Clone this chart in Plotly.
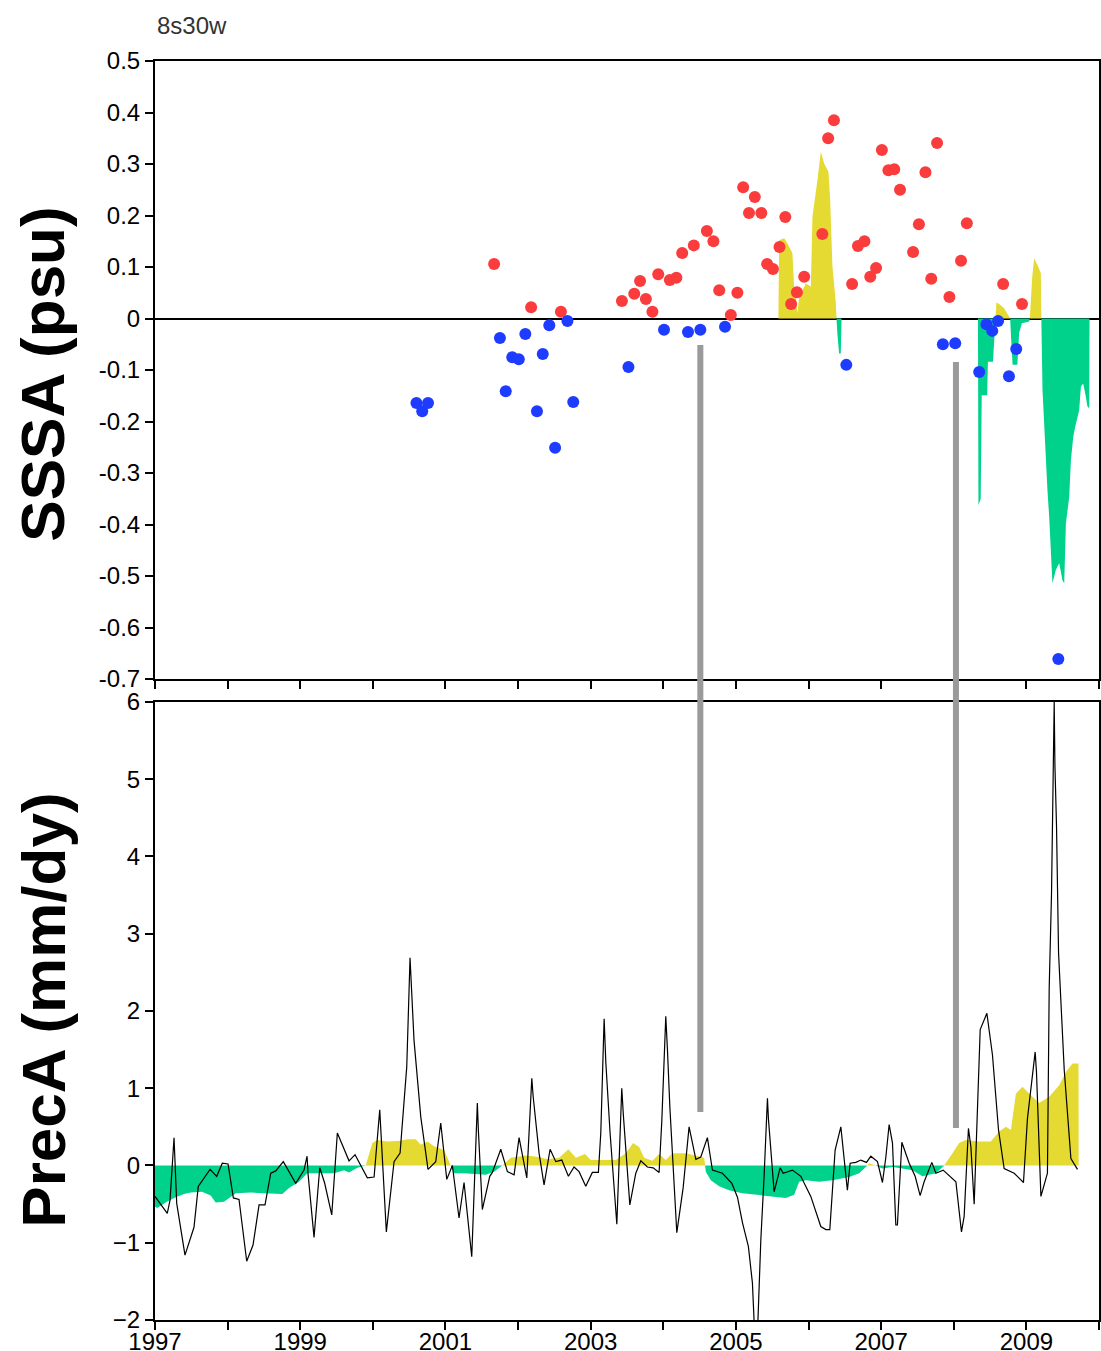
import numpy as np
import plotly.graph_objects as go

# ---------------- DATA ----------------
# Top panel: SSS anomaly scatter (decimal year, psu)
red_t = [2001.67, 2002.18, 2002.59, 2003.43, 2003.60, 2003.68, 2003.76, 2003.85, 2003.93, 2004.09,
         2004.18, 2004.26, 2004.42, 2004.60, 2004.69, 2004.77, 2004.93, 2005.02, 2005.10, 2005.18,
         2005.26, 2005.35, 2005.43, 2005.51, 2005.60, 2005.68, 2005.76, 2005.84, 2005.94, 2006.19,
         2006.27, 2006.35, 2006.60, 2006.68, 2006.77, 2006.85, 2006.93, 2007.01, 2007.10, 2007.18,
         2007.26, 2007.44, 2007.52, 2007.61, 2007.69, 2007.77, 2007.94, 2008.10, 2008.18, 2008.68,
         2008.94]
red_v = [0.106, 0.022, 0.013, 0.034, 0.048, 0.073, 0.038, 0.013, 0.086, 0.075,
         0.079, 0.127, 0.142, 0.170, 0.150, 0.055, 0.007, 0.050, 0.255, 0.205,
         0.236, 0.205, 0.106, 0.096, 0.139, 0.197, 0.028, 0.051, 0.081, 0.164,
         0.350, 0.385, 0.067, 0.141, 0.150, 0.081, 0.098, 0.327, 0.288, 0.290,
         0.250, 0.129, 0.183, 0.284, 0.077, 0.341, 0.042, 0.112, 0.185, 0.067,
         0.028]
blue_t = [2000.60, 2000.68, 2000.76, 2001.75, 2001.83, 2001.92, 2002.01, 2002.10, 2002.26, 2002.34,
          2002.43, 2002.51, 2002.68, 2002.76, 2003.52, 2004.01, 2004.34, 2004.51, 2004.85, 2006.52,
          2007.85, 2008.02, 2008.35, 2008.45, 2008.53, 2008.61, 2008.76, 2008.86, 2009.44]
blue_v = [-0.164, -0.180, -0.164, -0.038, -0.141, -0.075, -0.079, -0.030, -0.180, -0.069,
          -0.013, -0.251, -0.005, -0.162, -0.094, -0.022, -0.026, -0.022, -0.016, -0.090,
          -0.050, -0.048, -0.104, -0.011, -0.024, -0.005, -0.112, -0.059, -0.661]

# Top panel: shaded SSS anomaly series
sss_t = [2005.585, 2005.595, 2005.664, 2005.709, 2005.778, 2005.801, 2005.825, 2005.847, 2005.871, 2005.963,
         2006.032, 2006.054, 2006.123, 2006.169, 2006.215, 2006.274, 2006.298, 2006.329, 2006.376, 2006.385,
         2006.397, 2006.421, 2006.444, 2006.455, 2008.333, 2008.340, 2008.371, 2008.385, 2008.460, 2008.470,
         2008.540, 2008.560, 2008.575, 2008.587, 2008.625, 2008.694, 2008.735, 2008.777, 2008.790, 2008.810,
         2008.876, 2008.900, 2008.938, 2009.039, 2009.048, 2009.080, 2009.107, 2009.153, 2009.199, 2009.206,
         2009.222, 2009.245, 2009.268, 2009.290, 2009.314, 2009.337, 2009.359, 2009.406, 2009.452, 2009.497,
         2009.521, 2009.544, 2009.590, 2009.613, 2009.645, 2009.672, 2009.727, 2009.751, 2009.782, 2009.810,
         2009.841, 2009.865, 2009.870]
sss_v = [0.0, 0.152, 0.156, 0.146, 0.127, 0.062, 0.042, 0.010, 0.042, 0.068,
         0.062, 0.198, 0.269, 0.324, 0.301, 0.285, 0.230, 0.101, 0.030, 0.0,
         -0.029, -0.068, -0.068, 0.0, 0.0, -0.362, -0.350, -0.149, -0.149, -0.084,
         -0.084, -0.030, 0.0, 0.031, 0.028, 0.020, 0.010, 0.0, -0.040, -0.090,
         -0.090, -0.028, -0.009, -0.006, 0.0, 0.080, 0.117, 0.104, 0.088, 0.0,
         -0.139, -0.210, -0.268, -0.333, -0.385, -0.456, -0.514, -0.488, -0.475, -0.508,
         -0.514, -0.398, -0.346, -0.275, -0.230, -0.210, -0.178, -0.132, -0.126, -0.145,
         -0.171, -0.174, 0.0]

# Bottom panel: smoothed precipitation anomaly (shaded)
pfill_t = [1997.00, 1997.03, 1997.165, 1997.262, 1997.399, 1997.492, 1997.647, 1997.767, 1997.836, 1997.950,
           1998.112, 1998.318, 1998.501, 1998.663, 1998.753, 1998.846, 1998.983, 1999.098, 1999.466, 1999.603,
           1999.672, 1999.787, 1999.902, 1999.993, 2000.062, 2000.200, 2000.384, 2000.475, 2000.591, 2000.660,
           2000.751, 2000.843, 2000.981, 2001.073, 2001.118, 2001.256, 2001.555, 2001.669, 2001.784, 2001.900,
           2002.106, 2002.289, 2002.404, 2002.565, 2002.693, 2002.795, 2002.923, 2003.001, 2003.346, 2003.483,
           2003.584, 2003.667, 2003.736, 2003.850, 2003.942, 2004.034, 2004.125, 2004.310, 2004.493, 2004.562,
           2004.576, 2004.585, 2004.654, 2004.769, 2004.906, 2005.090, 2005.320, 2005.503, 2005.687, 2005.802,
           2005.871, 2005.963, 2006.146, 2006.329, 2006.559, 2006.697, 2006.789, 2006.810, 2006.835, 2006.920,
           2007.018, 2007.156, 2007.293, 2007.431, 2007.569, 2007.753, 2007.868, 2007.982, 2008.074, 2008.167,
           2008.350, 2008.511, 2008.625, 2008.718, 2008.787, 2008.855, 2008.946, 2009.062, 2009.176, 2009.314,
           2009.452, 2009.544, 2009.635, 2009.718, 2009.720]
pfill_v = [-0.53, -0.55, -0.47, -0.42, -0.37, -0.35, -0.34, -0.39, -0.48, -0.47,
           -0.36, -0.35, -0.36, -0.37, -0.37, -0.29, -0.21, -0.10, -0.10, -0.06,
           -0.09, -0.03, 0.0, 0.29, 0.33, 0.31, 0.32, 0.34, 0.34, 0.27,
           0.31, 0.25, 0.20, 0.0, -0.10, -0.10, -0.12, -0.08, 0.0, 0.10,
           0.13, 0.11, 0.08, 0.10, 0.21, 0.10, 0.15, 0.07, 0.07, 0.16,
           0.29, 0.24, 0.10, 0.06, 0.15, 0.07, 0.16, 0.16, 0.11, 0.10,
           0.0, -0.08, -0.19, -0.27, -0.32, -0.36, -0.38, -0.40, -0.42, -0.38,
           -0.21, -0.19, -0.21, -0.19, -0.15, -0.10, -0.02, 0.0, 0.03, 0.0,
           -0.04, -0.02, -0.04, -0.06, -0.14, -0.10, 0.0, 0.16, 0.29, 0.33,
           0.31, 0.31, 0.44, 0.50, 0.46, 0.93, 1.02, 0.91, 0.81, 0.89,
           1.04, 1.21, 1.32, 1.32, 0.0]

# Bottom panel: precipitation anomaly line (mm/dy)
prec_t = [1997.00, 1997.169, 1997.207, 1997.238, 1997.262, 1997.299, 1997.413, 1997.537, 1997.596, 1997.758,
          1997.850, 1997.927, 1998.006, 1998.079, 1998.157, 1998.263, 1998.350, 1998.433, 1998.515, 1998.594,
          1998.663, 1998.767, 1998.938, 1999.052, 1999.094, 1999.107, 1999.190, 1999.269, 1999.337, 1999.434,
          1999.511, 1999.672, 1999.755, 1999.924, 2000.017, 2000.095, 2000.186, 2000.292, 2000.375, 2000.467,
          2000.512, 2000.567, 2000.660, 2000.760, 2000.866, 2000.935, 2001.018, 2001.095, 2001.187, 2001.256,
          2001.362, 2001.439, 2001.453, 2001.508, 2001.610, 2001.646, 2001.762, 2001.853, 2001.945, 2002.014,
          2002.120, 2002.189, 2002.207, 2002.289, 2002.358, 2002.441, 2002.519, 2002.602, 2002.693, 2002.771,
          2002.840, 2002.932, 2003.023, 2003.106, 2003.139, 2003.185, 2003.208, 2003.267, 2003.360, 2003.428,
          2003.450, 2003.539, 2003.621, 2003.690, 2003.781, 2003.860, 2003.942, 2003.979, 2004.034, 2004.056,
          2004.090, 2004.186, 2004.273, 2004.355, 2004.387, 2004.448, 2004.516, 2004.607, 2004.676, 2004.814,
          2004.944, 2005.021, 2005.090, 2005.172, 2005.227, 2005.264, 2005.292, 2005.343, 2005.388, 2005.434,
          2005.448, 2005.526, 2005.609, 2005.650, 2005.778, 2005.894, 2006.031, 2006.169, 2006.238, 2006.293,
          2006.366, 2006.445, 2006.535, 2006.573, 2006.651, 2006.720, 2006.798, 2006.858, 2006.949, 2007.018,
          2007.065, 2007.110, 2007.156, 2007.202, 2007.224, 2007.285, 2007.386, 2007.468, 2007.537, 2007.592,
          2007.698, 2007.753, 2007.854, 2007.950, 2008.029, 2008.106, 2008.143, 2008.202, 2008.236, 2008.281,
          2008.313, 2008.364, 2008.456, 2008.533, 2008.616, 2008.694, 2008.832, 2008.960, 2009.015, 2009.121,
          2009.139, 2009.200, 2009.290, 2009.314, 2009.346, 2009.369, 2009.383, 2009.393, 2009.415, 2009.443,
          2009.489, 2009.521, 2009.613, 2009.704]
prec_v = [-0.40, -0.62, -0.45, 0.07, 0.36, -0.49, -1.16, -0.80, -0.27, -0.05,
          -0.14, 0.03, 0.02, -0.42, -0.44, -1.24, -1.03, -0.51, -0.51, -0.10,
          -0.07, 0.05, -0.23, -0.06, 0.12, -0.10, -0.93, -0.03, -0.23, -0.64,
          0.42, 0.06, 0.14, -0.16, -0.15, 0.72, -0.86, 0.05, 0.16, 1.28,
          2.69, 1.62, 0.63, -0.05, 0.05, 0.55, -0.18, 0.00, -0.68, -0.22,
          -1.18, 0.81, 0.46, -0.57, -0.14, -0.09, 0.21, -0.08, -0.12, 0.36,
          -0.16, 1.13, 0.90, 0.16, -0.25, 0.21, 0.05, 0.07, -0.14, -0.02,
          -0.08, -0.27, -0.09, -0.09, 0.42, 1.90, 1.34, 0.42, -0.76, 1.00,
          0.65, -0.51, -0.10, 0.06, -0.02, -0.03, -0.09, 0.57, 1.93, 1.52,
          0.76, -0.87, -0.29, 0.50, 0.34, 0.08, 0.11, 0.36, -0.06, -0.10,
          -0.23, -0.41, -0.74, -1.05, -1.52, -2.30, -2.30, -0.96, -0.14, 0.87,
          0.60, -0.34, -0.03, -0.10, -0.06, -0.14, -0.40, -0.79, -0.83, -0.83,
          0.20, 0.50, -0.32, 0.03, 0.04, 0.07, 0.04, 0.12, 0.05, -0.22,
          0.11, 0.53, 0.29, -0.77, -0.77, 0.30, 0.03, -0.14, -0.39, -0.21,
          0.04, -0.10, -0.06, -0.14, -0.21, -0.86, -0.66, 0.48, 0.24, -0.50,
          0.33, 1.76, 1.97, 1.43, 0.46, -0.04, -0.10, -0.22, 0.61, 1.47,
          1.21, -0.40, -0.10, 2.29, 3.52, 4.77, 6.00, 5.18, 4.39, 2.75,
          1.78, 1.24, 0.09, -0.05]

# Vertical marker lines (decimal year)
marker_years = [2004.51, 2008.03]

year_ticks = list(range(1997, 2011))
year_labels = [str(y) if (y - 1997) % 2 == 0 and y < 2010 else "" for y in year_ticks]
sss_ticks = [0.5, 0.4, 0.3, 0.2, 0.1, 0.0, -0.1, -0.2, -0.3, -0.4, -0.5, -0.6, -0.7]
sss_labels = ["0.5", "0.4", "0.3", "0.2", "0.1", "0", "-0.1", "-0.2", "-0.3", "-0.4", "-0.5", "-0.6", "-0.7"]
prec_ticks = [6, 5, 4, 3, 2, 1, 0, -1, -2]
prec_labels = ["6", "5", "4", "3", "2", "1", "0", "\u22121", "\u22122"]

# ---------------- STYLE ----------------
YELLOW = "#e5da32"
GREEN = "#00d18b"
RED = "#fb3c3c"
BLUE = "#1e3cff"
TICKFONT = dict(family="Liberation Sans, Arial", size=24, color="black")

fig = go.Figure()

sv = np.array(sss_v)
fig.add_trace(go.Scatter(x=sss_t, y=np.maximum(sv, 0), mode="lines", line=dict(width=0),
                         fill="tozeroy", fillcolor=YELLOW, xaxis="x", yaxis="y", hoverinfo="skip"))
fig.add_trace(go.Scatter(x=sss_t, y=np.minimum(sv, 0), mode="lines", line=dict(width=0),
                         fill="tozeroy", fillcolor=GREEN, xaxis="x", yaxis="y", hoverinfo="skip"))
fig.add_trace(go.Scatter(x=red_t, y=red_v, mode="markers",
                         marker=dict(color=RED, size=12, line=dict(width=0)), xaxis="x", yaxis="y"))
fig.add_trace(go.Scatter(x=blue_t, y=blue_v, mode="markers",
                         marker=dict(color=BLUE, size=12, line=dict(width=0)), xaxis="x", yaxis="y"))

pv = np.array(pfill_v)
fig.add_trace(go.Scatter(x=pfill_t, y=np.maximum(pv, 0), mode="lines", line=dict(width=0),
                         fill="tozeroy", fillcolor=YELLOW, xaxis="x2", yaxis="y2", hoverinfo="skip"))
fig.add_trace(go.Scatter(x=pfill_t, y=np.minimum(pv, 0), mode="lines", line=dict(width=0),
                         fill="tozeroy", fillcolor=GREEN, xaxis="x2", yaxis="y2", hoverinfo="skip"))
fig.add_trace(go.Scatter(x=prec_t, y=prec_v, mode="lines", line=dict(color="black", width=1.2),
                         xaxis="x2", yaxis="y2"))

axis_common = dict(showline=True, linecolor="black", linewidth=2, mirror=True, showgrid=False,
                   ticks="outside", tickcolor="black", tickwidth=2, ticklen=8, tickfont=TICKFONT)

for mx in marker_years:
    fig.add_shape(type="line", xref="x", yref="paper", x0=mx, x1=mx,
                  y0=0.7744 if mx < 2006 else 0.7609, y1=0.1652 if mx < 2006 else 0.1525,
                  line=dict(color="#9a9a9a", width=6), layer="above")

fig.update_layout(
    width=1101, height=1351,
    margin=dict(l=155, r=2, t=61, b=31, autoexpand=False),
    paper_bgcolor="white", plot_bgcolor="white",
    showlegend=False,
    xaxis=dict(domain=[0, 1], range=[1997, 2010], anchor="y", tickvals=year_ticks,
               showticklabels=False, zeroline=False, **axis_common),
    yaxis=dict(domain=[0.5091, 1], range=[-0.7, 0.5], anchor="x", tickvals=sss_ticks,
               ticktext=sss_labels, zeroline=True, zerolinecolor="black", zerolinewidth=1.5,
               **axis_common),
    xaxis2=dict(domain=[0, 1], range=[1997, 2010], anchor="y2", tickvals=year_ticks,
                ticktext=year_labels, zeroline=False, ticklabelstandoff=-9, **axis_common),
    yaxis2=dict(domain=[0, 0.4909], range=[-2, 6], anchor="x2", tickvals=prec_ticks,
                ticktext=prec_labels, zeroline=False, **axis_common),
    annotations=[
        dict(text="8s30w", xref="paper", yref="paper", x=0.0, y=1.016, xanchor="left",
             yanchor="bottom", showarrow=False,
             font=dict(family="Liberation Sans Narrow, Liberation Sans", size=24, color="#333")),
        dict(text="<b>SSSA (psu)</b>", xref="paper", yref="paper", x=-0.119, y=0.7514,
             xanchor="center", yanchor="middle", textangle=-90, showarrow=False,
             font=dict(family="Liberation Sans, Arial", size=62, color="black")),
        dict(text="<b>PrecA (mm/dy)</b>", xref="paper", yref="paper", x=-0.119, y=0.2462,
             xanchor="center", yanchor="middle", textangle=-90, showarrow=False,
             font=dict(family="Liberation Sans, Arial", size=62, color="black")),
    ],
)

fig.write_html("out.html", config={"displayModeBar": False},
               post_script="document.body.style.margin='0px';document.body.style.overflow='hidden';")
